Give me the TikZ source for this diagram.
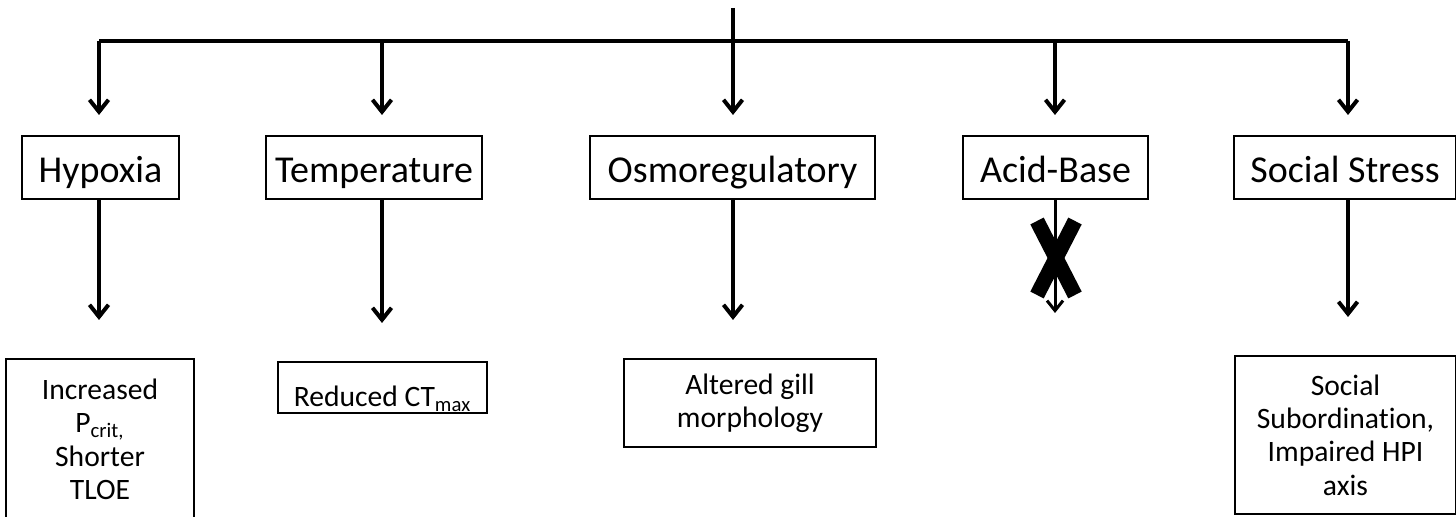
\documentclass[tikz,border=0pt]{standalone}
\usepackage{fontspec}
\setmainfont{Carlito}[Ligatures=NoCommon]
\usetikzlibrary{arrows.meta}
\tikzset{
  px/.style={x=0.5pt, y=-0.5pt},
  line/.style={black, line width=2pt},
  arr/.style={black, line width=2pt, -{Straight Barb[length=6pt,width=9.5pt]}},
  thinarr/.style={black, line width=1.5pt, -{Straight Barb[length=5pt,width=8pt]}},
  cat/.style={draw=black, line width=1pt, anchor=north west, inner sep=0pt,
    text height=16pt, text depth=0.5pt,
    font=\fontsize{19}{22}\selectfont},                   % stressor boxes
  res/.style={draw=black, line width=1pt, anchor=north west, inner sep=0pt,
    align=center, font=\fontsize{14.8}{16.7}\selectfont}, % outcome boxes
  nox/.style={black, line width=7.5pt},                   % the blocking cross
}

\begin{document}
\begin{tikzpicture}[px]
  \useasboundingbox (0,0) rectangle (1456,517);
  % bus
  \coordinate (top) at (733,8);
  \coordinate (b1) at (99,41);
  \coordinate (b2) at (382,41);
  \coordinate (b3) at (733,41);
  \coordinate (b4) at (1055,41);
  \coordinate (b5) at (1348,41);
  \draw[line] (top) -- (b3);
  \draw[line] (b1) -- (b5);
  % stressors
  \node[cat, minimum width=78.5pt, minimum height=31.5pt] (hyp) at (21,135) {Hypoxia};
  \node[cat, minimum width=108pt, minimum height=31.5pt] (temp) at (265,135) {Temperature};
  \node[cat, minimum width=142.5pt, minimum height=31.5pt] (osmo) at (589,135) {Osmoregulatory};
  \node[cat, minimum width=92.5pt, minimum height=31.5pt] (acid) at (962,135) {Acid-Base};
  \node[cat, minimum width=111pt, minimum height=31.5pt] (soc) at (1233,135) {Social Stress};
  % outcomes
  \node[res, minimum width=94pt, minimum height=80.5pt] (hypres) at (5,358)
    {Increased\\P\textsubscript{crit,}\\Shorter\\TLOE};
  \node[res, minimum width=104.5pt, minimum height=25.5pt, text height=20pt, text depth=0.5pt] (tempres) at (277,361)
    {Reduced CT\textsubscript{max}};
  \node[res, minimum width=126pt, minimum height=44pt] (osmores) at (623,358)
    {Altered gill\\morphology};
  \node[res, minimum width=110.5pt, minimum height=79pt] (socres) at (1234,355)
    {Social\\Subordination,\\Impaired HPI\\axis};
  % arrows down to stressors
  \foreach \b/\n in {b1/hyp, b2/temp, b3/osmo, b4/acid, b5/soc}
    \draw[arr, shorten >=10pt] (\b) -- (\b |- \n.north);
  % arrows down to outcomes
  \foreach \b/\n/\r in {b1/hyp/hypres, b2/temp/tempres, b3/osmo/osmores, b5/soc/socres}
    \draw[arr, shorten >=19pt] (\b |- \n.south) -- (\b |- \r.north);
  % acid-base: no effect
  \coordinate (xc) at (1056,258);
  \coordinate (acidend) at (1055,313);
  \draw[nox] ([shift={(-19,-37)}]xc) -- ([shift={(19,37)}]xc);
  \draw[nox] ([shift={(19,-37)}]xc) -- ([shift={(-19,37)}]xc);
  \draw[thinarr] (b4 |- acid.south) -- (acidend);
\end{tikzpicture}
\end{document}
